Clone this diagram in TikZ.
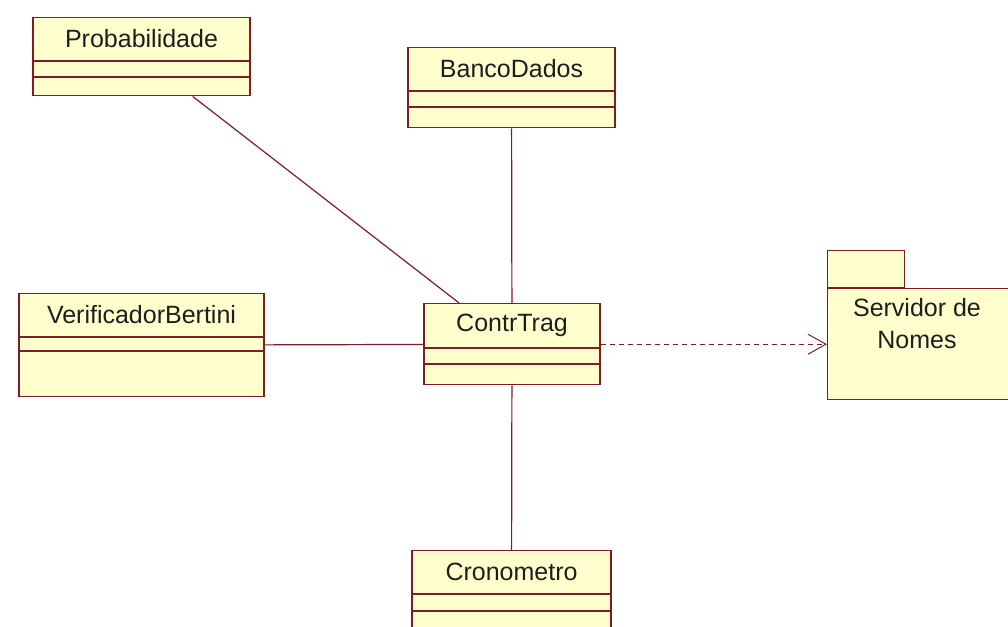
\documentclass[tikz,border=0pt]{standalone}
\usepackage{fontspec}
\setmainfont{Liberation Sans}
\usetikzlibrary{arrows.meta}

\definecolor{umlfill}{RGB}{255,255,206}
\definecolor{umlline}{RGB}{128,28,36}
\definecolor{umltext}{RGB}{30,30,30}

\tikzset{
    classbox/.style={draw=umlline, fill=umlfill, line width=1.4pt, inner sep=0pt},
    classline/.style={draw=umlline, line width=1.4pt},
    classname/.style={text=umltext, font=\fontsize{25}{32}\selectfont, inner sep=0pt},
    assoc/.style={draw=umlline, line width=1.2pt},
    dep/.style={draw=umlline, line width=1.2pt, dash pattern=on 5pt off 4pt, -{Straight Barb[length=18pt, width=20pt, line width=1pt]}}
}

% name, center x, top, width, height, title height, attribute height, title
\newcommand{\umlclass}[8]{%
    \node [classbox, minimum width=#4pt, minimum height=#5pt, anchor=north] (#1) at (#2,#3) {};
    \node [classname] (#1-title) at (#2, {#3+#6/2}) {#8};
    \draw [classline] ([yshift={-#6*1pt}]#1.north west) -- ([yshift={-#6*1pt}]#1.north east);
    \draw [classline] ([yshift={-(#6+#7)*1pt}]#1.north west) -- ([yshift={-(#6+#7)*1pt}]#1.north east);
}

\begin{document}
\begin{tikzpicture}[x=1pt, y=-1pt]
    \useasboundingbox [fill=white] (0,0) rectangle (1008,626);

    \umlclass{prob}{141.5}{17}{217}{78}{44}{16}{Probabilidade}
    \umlclass{banco}{511.5}{47}{207}{80}{44}{16}{BancoDados}
    \umlclass{verif}{141.5}{293}{245}{103}{44}{14}{VerificadorBertini}
    \umlclass{ctrl}{512}{303}{176}{81}{45}{16}{ContrTrag}
    \umlclass{crono}{511.5}{550}{199}{80}{44}{17}{Cronometro}

    % package
    \node [classbox, minimum width=77pt, minimum height=37pt, anchor=south west] (pkgtab) at (827,288) {};
    \node [classbox, minimum width=183pt, minimum height=111pt, anchor=north west] (pkg) at (827,288) {};
    \node [classname, align=center] (pkgname) at (917,324) {Servidor de\\Nomes};

    \draw [assoc] (prob) -- (ctrl);
    \draw [assoc] (banco) -- (ctrl);
    \draw [assoc] (verif) -- (ctrl);
    \draw [assoc] (ctrl) -- (crono);
    \draw [dep] (ctrl) -- (pkg);
\end{tikzpicture}
\end{document}
